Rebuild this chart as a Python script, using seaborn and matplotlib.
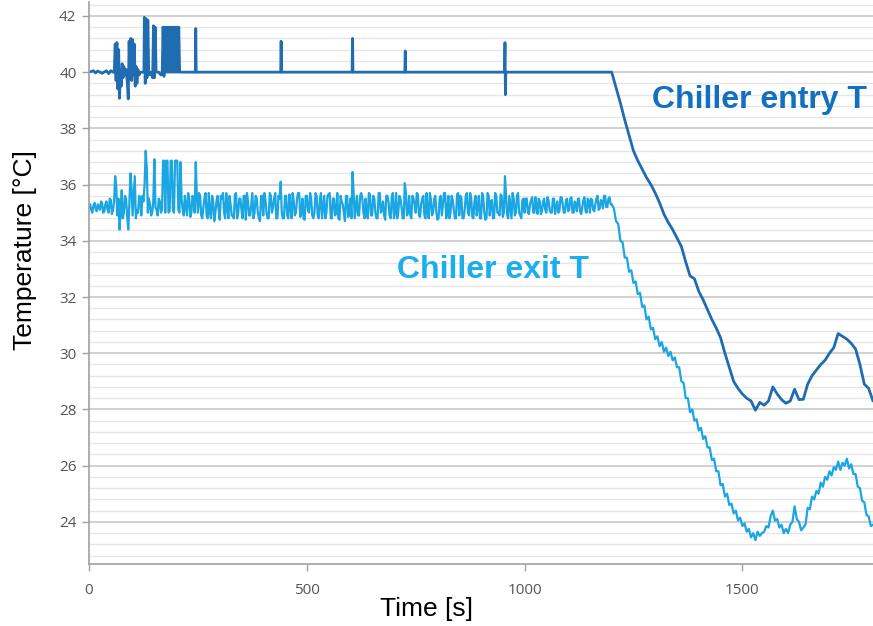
import numpy as np
import pandas as pd
import matplotlib
matplotlib.use("Agg")
import matplotlib.pyplot as plt
import seaborn as sns

# chiller entry temperature (flat 40 with sensor spikes, then cool-down)
entry_time = [0, 10, 15, 20, 30, 40, 45, 50, 55,
              58, 60, 62, 64, 66, 68, 70, 72, 74, 76, 78, 80, 82, 85, 88, 90,
              92, 94, 96, 98, 100, 102, 104, 106, 108, 110, 112, 115, 118,
              126, 127, 129, 131, 133, 135, 137, 140, 143, 146, 148, 150, 152, 154,
              160, 165, 168,
              170, 172, 174, 176, 178, 180, 182, 184, 186, 188, 190, 192, 194, 196,
              198, 200, 202, 204, 206, 208,
              215, 244, 245, 246, 440, 441, 442, 604, 605, 606, 725, 726, 727,
              954, 955, 956, 957,
              1200, 1210, 1220, 1230, 1240, 1250, 1260, 1270, 1280, 1290,
              1300, 1310, 1320, 1330, 1340, 1350, 1360, 1370, 1380, 1390,
              1400, 1410, 1420, 1430, 1440, 1450, 1460, 1470, 1480, 1490,
              1500, 1510, 1520, 1530, 1540, 1550, 1560, 1570, 1580, 1590,
              1600, 1610, 1620, 1630, 1640, 1650, 1660, 1670, 1680, 1690,
              1700, 1710, 1720, 1730, 1740, 1750, 1760, 1770, 1780, 1790, 1800]
entry_temp = [40.0, 40.05, 39.97, 40.04, 39.96, 40.05, 39.95, 40.05, 40.0,
              40.0, 41.0, 39.7, 41.05, 39.4, 40.8, 39.07, 40.1, 39.5, 40.3, 39.8, 40.2, 39.9, 40.1, 39.6, 39.05,
              41.1, 39.8, 41.2, 39.7, 41.15, 39.9, 41.0, 39.5, 40.2, 39.6, 40.1, 39.9, 40.0,
              40.0, 41.95, 39.6, 41.9, 39.8, 41.85, 40.0, 39.9, 40.0, 39.8, 41.65, 39.8, 41.6, 40.0,
              40.0, 39.9, 40.0,
              41.6, 39.85, 41.6, 40.0, 41.6, 40.0, 41.6, 40.0, 41.6, 40.0, 41.6, 40.0, 41.6, 40.0,
              41.6, 40.0, 41.6, 40.0, 41.6, 40.0,
              40.0, 40.0, 41.55, 40.0, 40.0, 41.1, 40.0, 40.0, 41.2, 40.0, 40.0, 40.75, 40.0,
              40.0, 41.05, 39.2, 40.0,
              40.0, 39.45, 38.9, 38.3, 37.75, 37.2, 36.85, 36.55, 36.25, 36.0,
              35.7, 35.35, 34.95, 34.65, 34.4, 34.1, 33.8, 33.25, 32.75, 32.65,
              32.2, 31.9, 31.55, 31.2, 30.9, 30.55, 30.0, 29.5, 29.0, 28.75,
              28.55, 28.4, 28.3, 27.97, 28.25, 28.15, 28.3, 28.8, 28.55, 28.35,
              28.22, 28.3, 28.72, 28.35, 28.36, 28.9, 29.2, 29.4, 29.6, 29.75,
              30.0, 30.2, 30.7, 30.6, 30.5, 30.35, 30.15, 29.6, 28.9, 28.75, 28.3]

# chiller exit temperature, samples every 5 s up to 1200 s
exit_time_a = list(range(0, 1205, 5))
exit_temp_a = [35.2, 35.1, 35.25, 35.15, 35.3, 35.1, 35.35, 35.05, 35.4, 35.0, 35.45, 35.1,
               36.3, 34.9, 34.4, 35.8, 35.0, 35.5, 34.4, 36.4, 34.9, 36.3,
               35.1, 35.6, 34.9, 35.4, 37.2, 35.0, 35.3, 35.0, 36.9, 35.1,
               35.5, 35.0, 36.85, 35.0, 36.85, 35.05, 36.85, 35.0, 36.85, 35.1,
               36.8, 35.1, 35.6, 34.9, 35.5, 35.0, 35.5, 36.8, 35.0,
               35.6, 34.8, 35.5, 34.9, 35.7, 34.8, 35.4, 35.0, 35.6, 34.75,
               35.5, 35.0, 35.7, 34.8, 35.3, 34.9, 35.65, 34.8, 35.5, 35.1,
               35.6, 34.75, 35.4, 34.9, 35.7, 35.0, 35.5, 34.8, 35.6, 34.9,
               35.45, 34.8, 35.7, 35.0, 35.5, 34.8, 35.6, 36.1, 34.8, 35.6,
               34.9, 35.65, 34.8, 35.4, 35.0, 35.7, 34.85, 35.5, 34.75, 35.6,
               35.0, 35.5, 34.8, 35.7, 34.9, 35.45, 34.8, 35.6, 35.0, 35.65,
               34.8, 35.5, 34.9, 35.7, 34.75, 35.4, 35.0, 35.6, 34.85, 35.5,
               36.45, 34.8, 35.6, 34.9, 35.7, 35.0, 35.5, 34.8, 35.65, 34.9,
               35.5, 34.8, 35.7, 35.0, 35.4, 34.75, 35.6, 34.9, 35.55, 34.8,
               35.7, 35.0, 35.5, 34.8, 36.05, 34.9, 35.6, 34.8, 35.5, 35.0,
               35.65, 34.85, 35.5, 34.9, 35.7, 34.8, 35.45, 35.0, 35.6, 34.75,
               35.5, 34.9, 35.7, 34.8, 35.6, 35.0, 35.45, 34.8, 35.65, 34.9,
               35.5, 34.8, 35.6, 35.0, 35.7, 34.85, 35.4, 34.9, 35.6, 34.8,
               35.55, 34.75, 35.7, 34.9, 35.45, 34.8, 35.6, 35.0, 35.65, 34.85,
               36.3, 34.9, 35.6, 34.8, 35.5, 35.0, 35.7, 34.9, 35.45, 35.0,
               35.5, 34.95, 35.45, 35.0, 35.55, 34.95, 35.4, 35.05, 35.5, 35.0,
               35.45, 35.0, 35.5, 34.95, 35.4, 35.05, 35.55, 35.0, 35.45, 35.05,
               35.5, 35.0, 35.4, 35.05, 35.5, 34.95, 35.45, 35.05, 35.5, 35.0,
               35.45, 35.05, 35.5, 35.1, 35.45, 35.15, 35.6, 35.2, 35.55, 35.3]

# in-between samples (2.5 s offset) of the exit temperature
exit_time_m = [2.5 + 5 * k for k in range(240)]
exit_temp_m = [35.3, 35.0, 35.35, 35.05, 35.2, 35.4, 35.0, 35.3, 35.1, 35.5, 34.95,
               35.4, 35.9, 35.5, 35.0, 34.8, 35.6, 34.9, 35.3, 35.9, 35.6,
               34.8, 35.0, 35.5, 35.6, 36.0, 36.6, 35.5, 34.9, 35.4, 35.2,
               34.9, 35.4, 35.1, 36.85, 36.85, 35.0, 36.85, 35.1, 36.85, 36.85,
               35.0, 35.5, 34.9, 35.2, 35.7, 34.85, 35.6, 35.0, 35.6,
               35.7, 34.9, 35.2, 35.7, 34.8, 35.0, 35.6, 34.7, 35.4, 35.1,
               35.6, 35.7, 34.8, 35.2, 35.6, 34.9, 34.8, 35.7, 35.0, 35.5,
               34.8, 35.6, 35.7, 34.9, 35.3, 34.8, 35.6, 35.0, 34.7, 35.6,
               35.7, 35.0, 34.8, 35.6, 35.2, 35.7, 34.8, 35.5, 35.0, 34.8,
               35.6, 34.8, 35.2, 35.7, 34.9, 35.5, 35.7, 35.0, 34.8, 35.6,
               35.1, 35.7, 34.9, 35.0, 35.6, 34.8, 35.7, 35.2, 34.8, 35.6,
               35.7, 34.8, 35.5, 35.0, 34.8, 35.6, 35.3, 34.7, 35.6, 35.0,
               34.8, 35.7, 35.2, 34.9, 35.6, 35.5, 34.8, 35.0, 35.7, 34.9,
               35.6, 35.0, 34.8, 35.7, 35.1, 34.9, 35.6, 35.4, 34.8, 35.7,
               35.0, 34.8, 35.6, 35.2, 34.8, 35.7, 35.0, 34.9, 35.6, 35.3,
               35.7, 34.9, 35.3, 35.6, 34.8, 35.0, 35.7, 34.9, 35.5, 35.0,
               34.8, 35.6, 35.3, 35.7, 35.0, 34.8, 35.6, 35.1, 34.8, 35.7,
               35.6, 34.8, 35.1, 35.7, 34.9, 35.5, 34.8, 35.6, 35.2, 34.8,
               35.7, 35.0, 34.8, 35.6, 35.4, 34.8, 35.7, 35.0, 34.9, 35.6,
               35.0, 35.6, 34.8, 35.2, 35.7, 34.9, 35.6, 35.0, 34.8, 35.5,
               35.5, 35.0, 35.3, 35.55, 35.0, 35.2, 35.5, 34.95, 35.4, 35.1,
               35.55, 35.1, 35.0, 35.5, 35.2, 35.0, 35.55, 35.3, 35.0, 35.5,
               35.1, 35.55, 35.0, 35.3, 35.5, 35.05, 35.2, 35.55, 35.0, 35.4,
               35.5, 35.1, 35.3, 35.6, 35.15, 35.4, 35.6, 35.2, 35.5, 35.3]

# exit temperature during cool-down, every 5 s
exit_time_b = list(range(1205, 1805, 5))
exit_temp_b = [35.15, 34.7, 34.6, 34.0, 33.95, 33.4, 33.4, 32.9, 32.95, 32.5,
               32.55, 32.1, 32.15, 31.65, 31.7, 31.2, 31.3, 30.85, 30.9, 30.5,
               30.6, 30.25, 30.4, 30.05, 30.2, 29.9, 30.05, 29.75, 29.85, 29.5,
               29.5, 29.0, 28.95, 28.4, 28.4, 27.9, 28.0, 27.6, 27.65, 27.25,
               27.35, 26.95, 27.05, 26.65, 26.65, 26.2, 26.25, 25.8, 25.8, 25.3,
               25.35, 24.9, 25.0, 24.6, 24.65, 24.3, 24.4, 24.05, 24.15, 23.85,
               23.95, 23.65, 23.75, 23.45, 23.6, 23.35, 23.65, 23.5, 23.6, 23.65,
               23.85, 23.8, 24.2, 24.4, 24.05, 24.1, 23.8, 23.9, 23.6, 23.75,
               23.6, 23.9, 24.0, 24.55, 24.1, 24.0, 23.7, 23.8, 23.9, 24.5,
               24.45, 24.9, 24.8, 25.1, 25.0, 25.4, 25.25, 25.6, 25.5, 25.8,
               25.65, 25.95, 25.85, 26.15, 25.85, 26.1, 26.0, 26.25, 25.9, 26.05,
               25.7, 25.7, 25.25, 25.2, 24.75, 24.7, 24.25, 24.2, 23.85, 23.9]

entry_color = "#1f6cb0"
exit_color = "#1aa5e3"

entry_df = pd.DataFrame({"Time": entry_time, "Temp": entry_temp})
exit_df = pd.DataFrame({"Time": exit_time_a + exit_time_m + exit_time_b,
                        "Temp": exit_temp_a + exit_temp_m + exit_temp_b})
exit_df = exit_df.sort_values("Time")

sns.set_style("white")
plt.rcParams["font.family"] = ["Liberation Sans", "DejaVu Sans"]

fig = plt.figure(figsize=(8.73, 6.26), dpi=100)
ax = fig.add_axes([0.102, 0.099, 0.898, 0.898])

sns.lineplot(data=exit_df, x="Time", y="Temp", ax=ax, color=exit_color,
             lw=1.6, estimator=None, sort=False)
sns.lineplot(data=entry_df, x="Time", y="Temp", ax=ax, color=entry_color,
             lw=2.0, estimator=None, sort=False)

ax.set_xlim(0, 1800)
ax.set_ylim(22.5, 42.5)
ax.set_xticks([0, 500, 1000, 1500])
ax.set_yticks(np.arange(24, 43, 2))
ax.set_yticks(np.arange(22.8, 42.5, 0.4), minor=True)
ax.yaxis.grid(True, which="major", color="#c4c4c4", lw=1.1)
ax.yaxis.grid(True, which="minor", color="#e6e6e6", lw=1.0)
ax.xaxis.grid(False)
ax.set_axisbelow(True)

for s in ["top", "right"]:
    ax.spines[s].set_visible(False)
for s in ["left", "bottom"]:
    ax.spines[s].set_color("#a0a0a0")
    ax.spines[s].set_linewidth(1.2)

ax.tick_params(axis="y", which="major", left=True, length=5, width=1,
               color="#a0a0a0", pad=4, labelsize=11, labelcolor="#555555")
ax.tick_params(axis="y", which="minor", left=False)
ax.tick_params(axis="x", bottom=True, length=5, width=1, color="#a0a0a0",
               pad=9, labelsize=11, labelcolor="#555555")
for lab in ax.get_xticklabels() + ax.get_yticklabels():
    lab.set_family("Open Sans")

ax.set_xlabel("Time [s]", fontsize=19, color="black")
ax.set_ylabel("Temperature [°C]", fontsize=19, color="black")
ax.xaxis.set_label_coords(0.43, -0.058)
ax.yaxis.set_label_coords(-0.066, 0.559)

ax.text(1293, 39.0, "Chiller entry T", color="#1170c0", fontsize=23,
        fontweight="bold", ha="left", va="center")
ax.text(707, 32.95, "Chiller exit T", color="#1aaeed", fontsize=23,
        fontweight="bold", ha="left", va="center")

fig.savefig("out.png", dpi=100)
